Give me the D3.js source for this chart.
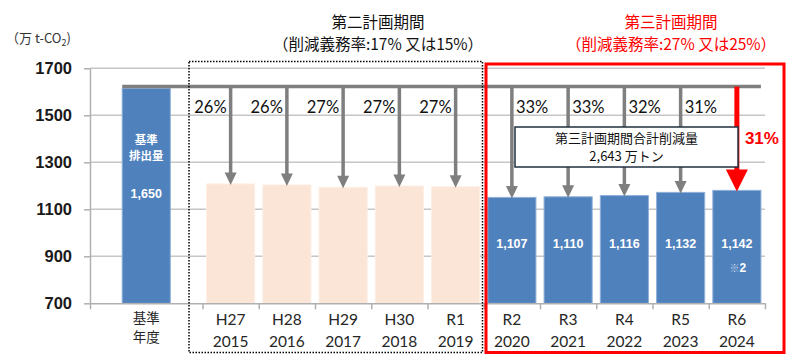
<!DOCTYPE html>
<html>
<head>
<meta charset="utf-8">
<script src="https://cdn.jsdelivr.net/npm/d3@7"></script>
<style>
  body { margin: 0; background: #fff; }
  svg { display: block; }
  text { font-family: "Noto Sans CJK JP", "Noto Sans", sans-serif; }
</style>
</head>
<body>
<div id="chart"></div>
<script>
// chart data
const categoryTop = ["基準", "H27", "H28", "H29", "H30", "R1", "R2", "R3", "R4", "R5", "R6"];
const categoryBottom = ["年度", "2015", "2016", "2017", "2018", "2019", "2020", "2021", "2022", "2023", "2024"];
const emissions = [1650, 1174, 1169, 1157, 1164, 1160, 1107, 1110, 1116, 1132, 1142];
const valueLabels = ["1,650", null, null, null, null, null, "1,107", "1,110", "1,116", "1,132", "1,142"];
const reductionRates = [null, 26, 26, 27, 27, 27, 33, 33, 32, 31, 31];
const periods = ["base", "second", "second", "second", "second", "second", "third", "third", "third", "third", "third"];
const yTicks = [700, 900, 1100, 1300, 1500, 1700];
const totalReduction = "2,643";

const width = 800;
const height = 363;

const svg = d3.select("#chart")
  .append("svg")
  .attr("width", width)
  .attr("height", height);

// x: 12 slots, the base year takes two
const x = d3.scaleLinear().domain([0, 12]).range([90, 765]);
const slotCenter = (i) => (i === 0 ? x(1) : x(i + 1.5));
const barW = x(0.855) - x(0);

// axis scale (printed ticks) and bar scale (as drawn in the source figure)
const yAxis = d3.scaleLinear().domain([700, 1700]).range([303.3, 68.3]);
const yBar = d3.scaleLinear().domain([580, 1650]).range([303.3, 88.3]);

// gridlines
svg.append("g")
  .selectAll("line")
  .data(yTicks.slice(1))
  .join("line")
  .attr("x1", x(0))
  .attr("x2", x(12))
  .attr("y1", (d) => yAxis(d))
  .attr("y2", (d) => yAxis(d))
  .attr("stroke", "#c6c6c6")
  .attr("stroke-width", 1.5);

// y axis
const gy = svg.append("g")
  .attr("transform", `translate(${x(0)},0)`)
  .call(d3.axisLeft(yAxis).tickValues(yTicks).tickFormat(d3.format("d"))
    .tickSize(6).tickSizeOuter(0).tickPadding(12));
gy.select(".domain").attr("stroke", "#b0b0b0").attr("stroke-width", 1.5);
gy.selectAll(".tick line").attr("stroke", "#b0b0b0").attr("stroke-width", 1.5);
gy.selectAll(".tick text")
  .style("font-family", "'Liberation Sans', Arial, sans-serif")
  .style("font-weight", "bold")
  .style("font-size", "16.5px")
  .attr("fill", "#1a1a1a");

// unit label
svg.append("text")
  .attr("x", 6)
  .attr("y", 38)
  .attr("dy", "0.35em")
  .attr("fill", "#333")
  .style("font-size", "13px")
  .text("（万 t-CO")
  .append("tspan")
  .attr("dy", 3)
  .style("font-size", "9px")
  .text("2")
  .append("tspan")
  .attr("dy", -3)
  .style("font-size", "13px")
  .text(")");

// bars
svg.append("g")
  .selectAll("rect")
  .data(emissions)
  .join("rect")
  .attr("x", (d, i) => slotCenter(i) - barW / 2)
  .attr("y", (d) => yBar(d))
  .attr("width", barW)
  .attr("height", (d) => yBar(580) - yBar(d))
  .attr("fill", (d, i) => (periods[i] === "second" ? "#fbe5d6" : "#4f81bd"))
  .attr("stroke", (d, i) => (periods[i] === "second" ? "#fdeee4" : "#8eb0da"))
  .attr("stroke-width", 1);

// x axis
const gx = svg.append("g")
  .attr("transform", `translate(0,${yAxis(700)})`)
  .call(d3.axisBottom(x).tickValues([0, 2, 3, 4, 5, 6, 7, 8, 9, 10, 11, 12]).tickFormat("").tickSize(6).tickSizeOuter(0));
gx.select(".domain").attr("stroke", "#b0b0b0").attr("stroke-width", 1.5);
gx.selectAll(".tick line").attr("stroke", "#b0b0b0").attr("stroke-width", 1.5);

// category labels (two lines each)
[categoryTop, categoryBottom].forEach((labels, row) => {
  svg.append("g")
    .selectAll("text")
    .data(labels)
    .join("text")
    .attr("x", (d, i) => slotCenter(i))
    .attr("y", (d, i) => (i === 0 ? (row === 0 ? 318 : 337.5) : (row === 0 ? 320 : 341.5)))
    .attr("dy", "0.35em")
    .attr("text-anchor", "middle")
    .attr("fill", "#262626")
    .style("font-size", (d, i) => (i === 0 ? "13.5px" : "15.5px"))
    .style("font-family", (d, i) => (i === 0 ? "'Noto Sans CJK JP'" : "Lato, sans-serif"))
    .text((d) => d);
});

// grey reference line at the base level
const refY = yBar(emissions[0]) - 1.75;
svg.append("line")
  .attr("x1", slotCenter(0) - barW / 2)
  .attr("x2", slotCenter(10) + barW / 2)
  .attr("y1", refY)
  .attr("y2", refY)
  .attr("stroke", "#7f7f7f")
  .attr("stroke-width", 3.5);

// reduction arrows
const arrowIdx = d3.range(1, 11);
arrowIdx.forEach((i) => {
  const cx = slotCenter(i);
  const tip = yBar(emissions[i]) + 1;
  const red = i === 10;
  const hw = red ? 11 : 6;
  const hh = red ? 22 : 12.5;
  const col = red ? "#ff0000" : "#7f7f7f";
  svg.append("line")
    .attr("x1", cx).attr("x2", cx)
    .attr("y1", refY).attr("y2", tip - hh + 1)
    .attr("stroke", col)
    .attr("stroke-width", red ? 5 : 3.5);
  svg.append("path")
    .attr("d", d3.line()([[cx - hw, tip - hh], [cx + hw, tip - hh], [cx, tip]]) + "Z")
    .attr("fill", col);
});

// percent labels
svg.append("g")
  .selectAll("text")
  .data(arrowIdx.filter((i) => i < 10))
  .join("text")
  .attr("x", (i) => (periods[i] === "second" ? slotCenter(i) - 4 : slotCenter(i) + 4))
  .attr("y", 107)
  .attr("dy", "0.35em")
  .attr("text-anchor", (i) => (periods[i] === "second" ? "end" : "start"))
  .attr("fill", "#111")
  .style("font-family", "Lato, sans-serif")
  .style("font-size", "16.5px")
  .text((i) => reductionRates[i] + "%");

svg.append("text")
  .attr("x", slotCenter(10) + 8)
  .attr("y", 138)
  .attr("dy", "0.35em")
  .attr("fill", "#ff0000")
  .style("font-family", "'Liberation Sans', Arial, sans-serif")
  .style("font-weight", "bold")
  .style("font-size", "17px")
  .text(reductionRates[10] + "%");

// base bar labels
const bx = slotCenter(0);
[["基準", 140], ["排出量", 156]].forEach(([t, yy]) => {
  svg.append("text")
    .attr("x", bx).attr("y", yy).attr("dy", "0.35em")
    .attr("text-anchor", "middle")
    .attr("fill", "#fff")
    .style("font-size", "11.5px")
    .style("font-weight", "bold")
    .text(t);
});

// value labels in bars
svg.append("g")
  .selectAll("text")
  .data(d3.range(emissions.length).filter((i) => valueLabels[i]))
  .join("text")
  .attr("x", (i) => slotCenter(i))
  .attr("y", (i) => (i === 0 ? 193.5 : 243.5))
  .attr("dy", "0.35em")
  .attr("text-anchor", "middle")
  .attr("fill", "#fff")
  .style("font-family", "'Liberation Sans', Arial, sans-serif")
  .style("font-weight", "bold")
  .style("font-size", "12.5px")
  .text((i) => valueLabels[i]);

const note = svg.append("text")
  .attr("x", slotCenter(10) + 1)
  .attr("y", 268)
  .attr("dy", "0.35em")
  .attr("text-anchor", "middle")
  .style("font-size", "12px");
note.append("tspan").attr("fill", "#c5d5ea").style("font-size", "10px").text("※");
note.append("tspan").attr("fill", "#fff").style("font-weight", "bold")
  .style("font-family", "'Liberation Sans', Arial, sans-serif").text("2");

// period frames
svg.append("rect")
  .attr("x", 189).attr("y", 61.5)
  .attr("width", 482.5 - 189).attr("height", 352.5 - 61.5)
  .attr("fill", "none")
  .attr("stroke", "#000")
  .attr("stroke-width", 1.5)
  .attr("stroke-dasharray", "1.5,1.5");

svg.append("rect")
  .attr("x", 486).attr("y", 64)
  .attr("width", 784 - 486).attr("height", 352.5 - 64)
  .attr("fill", "none")
  .attr("stroke", "#ff0000")
  .attr("stroke-width", 3);

// total reduction box
svg.append("rect")
  .attr("x", 515).attr("y", 127)
  .attr("width", 738 - 515).attr("height", 167 - 127)
  .attr("fill", "#fff")
  .attr("stroke", "#1f3040")
  .attr("stroke-width", 1.5);
svg.append("text")
  .attr("x", 626.5).attr("y", 138.5).attr("dy", "0.35em")
  .attr("text-anchor", "middle").attr("fill", "#111")
  .style("font-size", "13px")
  .text("第三計画期間合計削減量");
svg.append("text")
  .attr("x", 626.5).attr("y", 156.5).attr("dy", "0.35em")
  .attr("text-anchor", "middle").attr("fill", "#111")
  .style("font-size", "13px")
  .text(totalReduction + " 万トン");

// period titles
const titles = [
  { x: 378, lines: ["第二計画期間", "（削減義務率:17% 又は15%）"], color: "#111" },
  { x: 671, lines: ["第三計画期間", "（削減義務率:27% 又は25%）"], color: "#ff0000" },
];
titles.forEach((t) => {
  t.lines.forEach((line, k) => {
    svg.append("text")
      .attr("x", t.x)
      .attr("y", k === 0 ? 23 : 45)
      .attr("dy", "0.35em")
      .attr("text-anchor", "middle")
      .attr("fill", t.color)
      .style("font-size", "15.5px")
      .text(line);
  });
});
</script>
</body>
</html>
